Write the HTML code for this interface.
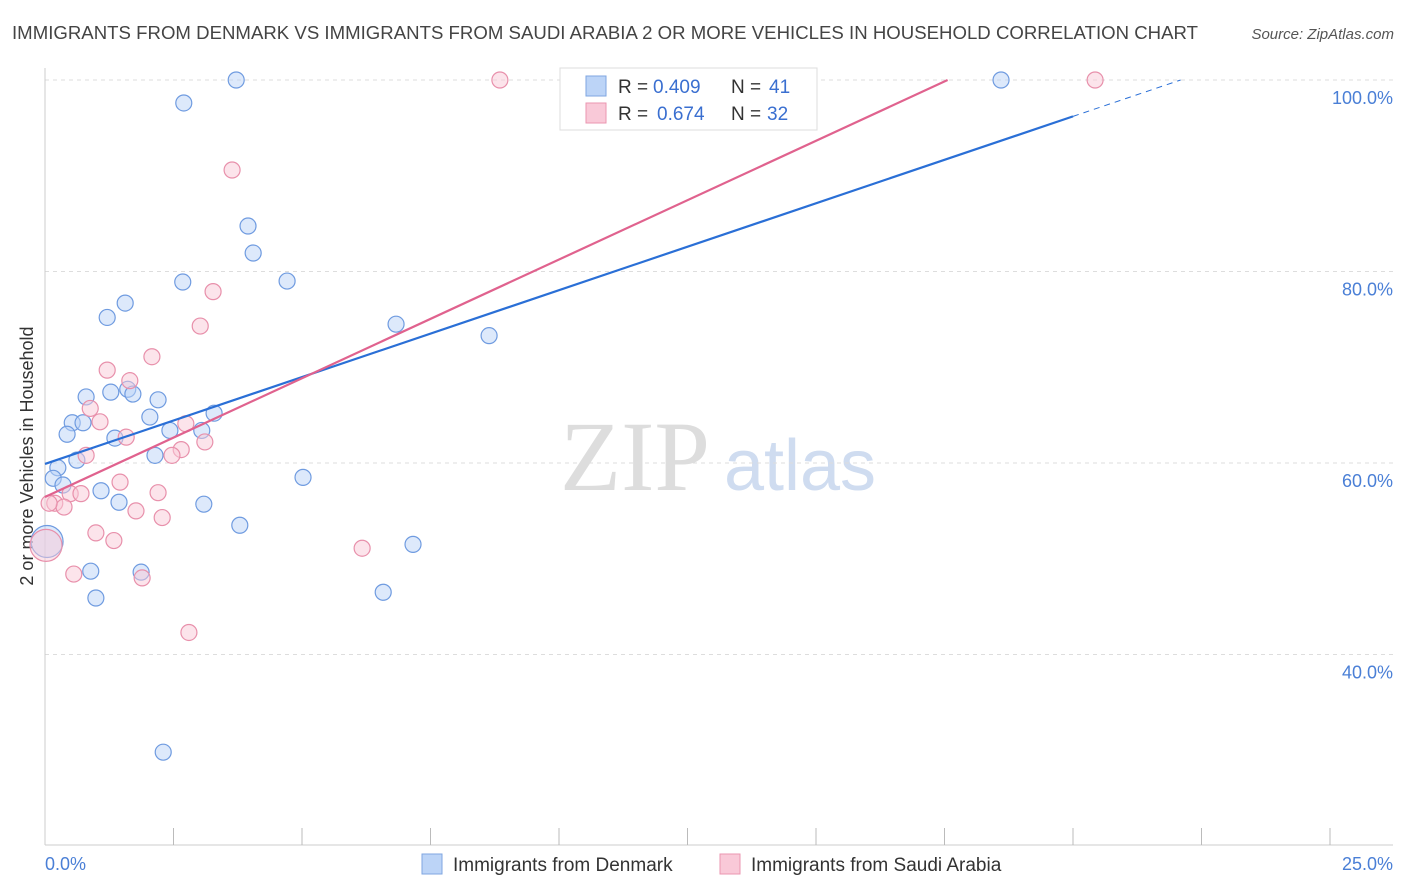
<!DOCTYPE html>
<html><head><meta charset="utf-8"><style>
body{margin:0;background:#fff;font-family:"Liberation Sans",sans-serif}
svg{display:block}
</style></head><body>
<svg width="1406" height="892" id="c">
<text x="12" y="39" font-size="18.6" fill="#444" textLength="1186">IMMIGRANTS FROM DENMARK VS IMMIGRANTS FROM SAUDI ARABIA 2 OR MORE VEHICLES IN HOUSEHOLD CORRELATION CHART</text>
<text x="1394" y="39" font-size="15" fill="#555" font-style="italic" text-anchor="end">Source: ZipAtlas.com</text>
<text x="635" y="490" font-size="100" fill="#ddd" font-family="Liberation Serif" text-anchor="middle">ZIP</text>
<text x="800" y="490" font-size="72" fill="#cfdcf0" text-anchor="middle">atlas</text>
<text transform="translate(33,456) rotate(-90)" font-size="18" fill="#333" text-anchor="middle">2 or more Vehicles in Household</text>
<g id="grid"></g><g id="marks"></g>
<g>
<rect x="560" y="68" width="257" height="62" fill="#fff" stroke="#ddd"/>
<rect x="586" y="76" width="20" height="20" fill="#bcd4f7" stroke="#7fa6e0"/>
<rect x="586" y="103" width="20" height="20" fill="#f9c9d8" stroke="#eb96b0"/>
<text y="93" font-size="19" fill="#333"><tspan x="618">R =</tspan><tspan x="653" fill="#3a6fd0">0.409</tspan><tspan x="731">N =</tspan><tspan x="769" fill="#3a6fd0">41</tspan></text>
<text y="120" font-size="19" fill="#333"><tspan x="618">R =</tspan><tspan x="657" fill="#3a6fd0">0.674</tspan><tspan x="731">N =</tspan><tspan x="767" fill="#3a6fd0">32</tspan></text>
</g>
<g>
<rect x="422" y="854" width="20" height="20" fill="#bcd4f7" stroke="#7fa6e0"/>
<text x="453" y="871" font-size="19" fill="#333">Immigrants from Denmark</text>
<rect x="720" y="854" width="20" height="20" fill="#f9c9d8" stroke="#eb96b0"/>
<text x="751" y="871" font-size="19" fill="#333">Immigrants from Saudi Arabia</text>
</g>
</svg>
<script>
const yTicks=[40,60,80,100];
const xTickCount=10;
const blueX=[3.72,2.70,3.95,4.05,2.68,4.71,1.56,1.21,6.83,8.64,0.80,1.28,1.61,1.71,2.20,2.04,3.29,0.53,0.74,0.43,1.36,2.43,3.05,0.25,0.62,2.14,0.16,0.35,1.09,1.44,3.09,5.02,3.79,0.04,7.16,0.89,1.87,0.99,6.58,2.30,18.6];
const blueY=[100,97.6,84.75,81.93,78.9,79.0,76.7,75.2,74.5,73.3,66.9,67.4,67.7,67.2,66.6,64.8,65.2,64.2,64.2,63.0,62.6,63.4,63.4,59.5,60.3,60.8,58.4,57.7,57.1,55.9,55.7,58.5,53.5,51.8,51.5,48.7,48.6,45.9,46.5,29.8,100];
const pinkX=[8.85,20.43,3.64,3.27,3.02,2.08,1.21,1.65,0.88,1.07,2.74,1.58,3.11,2.65,2.47,0.80,1.46,2.20,0.49,0.70,0.19,0.37,1.77,2.28,0.99,1.34,0.02,6.17,0.56,1.89,2.80,0.08];
const pinkY=[100,100,90.6,77.9,74.3,71.1,69.7,68.6,65.7,64.3,64.1,62.7,62.2,61.4,60.8,60.8,58.0,56.9,56.8,56.8,55.8,55.4,55.0,54.3,52.7,51.9,51.4,51.1,48.4,48.0,42.3,55.8];
const blueTrend=[59.9,1.815];
const pinkTrend=[56.45,2.48];
const X=v=>45+v*51.4, Y=v=>80+(100-v)*9.575;
const NS="http://www.w3.org/2000/svg";
function mk(t,a,p){const e=document.createElementNS(NS,t);for(const k in a)e.setAttribute(k,a[k]);p.appendChild(e);return e;}
const g=document.getElementById('grid'),m=document.getElementById('marks');
yTicks.forEach(t=>{const l=mk('line',{x1:45,x2:1393,y1:Y(t),y2:Y(t),stroke:'#ddd','stroke-dasharray':'4,4'},g);


const tx=mk('text',{x:1393,y:Y(t)+24,'font-size':18,fill:'#4a7fd6','text-anchor':'end'},g);tx.textContent=t.toFixed(1)+'%';

});
mk('line',{x1:45,x2:45,y1:68,y2:845,stroke:'#ccc'},g);
mk('line',{x1:45,x2:1393,y1:845,y2:845,stroke:'#ccc'},g);
for(let i=1;i<=xTickCount;i++){mk('line',{x1:X(i*2.5),x2:X(i*2.5),y1:828,y2:845,stroke:'#bbb'},g);}
let t0=mk('text',{x:45,y:870,'font-size':18,fill:'#4a7fd6'},g);t0.textContent='0.0%';

let t1=mk('text',{x:1393,y:870,'font-size':18,fill:'#4a7fd6','text-anchor':'end'},g);t1.textContent='25.0%';

function pts(xs,ys,fill,stroke,name){xs.forEach((x,i)=>{const big=x<0.05;const c=mk('circle',{cx:X(x),cy:Y(ys[i]),r:big?16:8,fill:fill,'fill-opacity':0.5,stroke:stroke,'stroke-width':1.2},m);

});}
pts(blueX,blueY,'#bcd4f7','#6f9be0','denmark-point');
pts(pinkX,pinkY,'#f9c9d8','#e890ab','saudi-point');
const bx=20,bxe=(100-blueTrend[0])/blueTrend[1];
let bl=mk('line',{x1:X(0),y1:Y(blueTrend[0]),x2:X(bx),y2:Y(blueTrend[0]+blueTrend[1]*bx),stroke:'#2a6fd6','stroke-width':2.2},m);

let bd=mk('line',{x1:X(bx),y1:Y(blueTrend[0]+blueTrend[1]*bx),x2:X(bxe),y2:Y(blueTrend[0]+blueTrend[1]*bxe),stroke:'#2a6fd6','stroke-width':1,'stroke-dasharray':'6,5'},m);

const px=(100-pinkTrend[0])/pinkTrend[1];
let pl=mk('line',{x1:X(0),y1:Y(pinkTrend[0]),x2:X(px),y2:Y(100),stroke:'#e0628e','stroke-width':2.2},m);

</script>
</body></html>
